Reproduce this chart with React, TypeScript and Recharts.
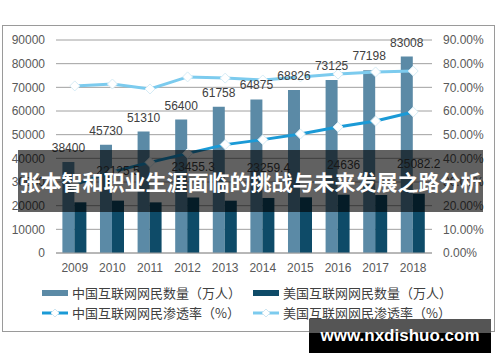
import React from "react";
import {
  ComposedChart,
  Bar,
  Line,
  XAxis,
  YAxis,
  CartesianGrid,
  LabelList,
} from "recharts";

// 年份 + 网民数量（万人）+ 渗透率（%）
const years = ["2009", "2010", "2011", "2012", "2013", "2014", "2015", "2016", "2017", "2018"];
const chinaUsers = [38400, 45730, 51310, 56400, 61758, 64875, 68826, 73125, 77198, 83008];
const usUsers = [21420, 22125.5, 21400, 23455.3, 22100, 23259.4, 23530, 24636, 24500, 25082.2];
const chinaRate = [28.9, 34.3, 38.3, 42.1, 45.8, 47.9, 50.3, 53.2, 55.8, 59.6];
const usRate = [70.6, 71.4, 69.3, 74.4, 73.9, 73.1, 74.4, 75.6, 76.5, 76.9];

const leftTicks = [0, 10000, 20000, 30000, 40000, 50000, 60000, 70000, 80000, 90000];
const rightTicks = [0, 10, 20, 30, 40, 50, 60, 70, 80, 90];

const title = "张本智和职业生涯面临的挑战与未来发展之路分析";
const watermark = "www.nxdishuo.com";

const data = years.map((year, i) => ({
  year,
  china: chinaUsers[i],
  us: usUsers[i],
  chinaRate: chinaRate[i],
  usRate: usRate[i],
}));

const C_BAR = "#5b8aa6";
const US_BAR = "#0e4b68";
const C_LINE = "#1b9ad6";
const US_LINE = "#7ccbee";

const numFont = "'Liberation Sans', Arial, sans-serif";
const cjkFont = "'Noto Sans CJK SC', sans-serif";

const diamond = (props: any) => {
  const { cx, cy, index } = props;
  if (cx == null || cy == null) return <g key={index} />;
  return (
    <polygon
      key={index}
      points={`${cx},${cy - 5} ${cx + 5},${cy} ${cx},${cy + 5} ${cx - 5},${cy}`}
      fill="#fff"
      stroke="#d6ecf6"
      strokeWidth={1}
    />
  );
};

// 美国的数据标签只有部分能看到
const usLabel = (props: any) => {
  const { x, y, width, value, index } = props;
  if (index % 2 === 0) return null;
  return (
    <text
      x={x + width / 2}
      y={y - 26}
      textAnchor="middle"
      fill="#404040"
      fontSize={12}
      fontFamily={numFont}
    >
      {value}
    </text>
  );
};

function LegendIcon({ type, color }: { type: "bar" | "line"; color: string }) {
  return (
    <svg width={28} height={10} style={{ display: "block" }}>
      {type === "bar" ? (
        <rect x={0} y={2} width={26} height={6} fill={color} />
      ) : (
        <g>
          <line x1={0} y1={5} x2={26} y2={5} stroke={color} strokeWidth={3} />
          <polygon points="13,1 17,5 13,9 9,5" fill="#fff" stroke="#cfe6f1" />
        </g>
      )}
    </svg>
  );
}

const legendItems = [
  { label: "中国互联网网民数量（万人）", type: "bar" as const, color: C_BAR, left: 42, top: 286 },
  { label: "美国互联网网民数量（万人）", type: "bar" as const, color: US_BAR, left: 253, top: 286 },
  { label: "中国互联网网民渗透率（%）", type: "line" as const, color: C_LINE, left: 42, top: 306 },
  { label: "美国互联网网民渗透率（%）", type: "line" as const, color: US_LINE, left: 253, top: 306 },
];

export default function App() {
  return (
    <div
      style={{
        position: "absolute",
        left: 0,
        top: 0,
        width: 500,
        height: 362,
        background: "#fff",
        overflow: "hidden",
      }}
    >
      {/* 图表外框 */}
      <div
        style={{
          position: "absolute",
          left: 2,
          top: 25,
          width: 493,
          height: 307,
          border: "1px solid #9a9a9a",
          boxSizing: "border-box",
        }}
      />
      <div style={{ position: "absolute", left: 0, top: 0 }}>
        <ComposedChart
          width={500}
          height={362}
          data={data}
          margin={{ top: 40, right: 8, left: 6, bottom: 79 }}
          barCategoryGap="17%"
          barGap={0}
        >
          <CartesianGrid vertical={false} stroke="#a0a0a0" yAxisId="left" />
          <XAxis
            dataKey="year"
            height={30}
            tickLine={false}
            axisLine={{ stroke: "#a0a0a0" }}
            tickSize={0}
            tickMargin={10}
            tick={{ fill: "#595959", fontSize: 12, fontFamily: numFont }}
          />
          <YAxis
            yAxisId="left"
            width={50}
            domain={[0, 90000]}
            ticks={leftTicks}
            interval={0}
            axisLine={false}
            tickLine={false}
            tickSize={0}
            tickMargin={11}
            tick={{ fill: "#595959", fontSize: 12, fontFamily: numFont }}
          />
          <YAxis
            yAxisId="right"
            orientation="right"
            width={60}
            domain={[0, 90]}
            ticks={rightTicks}
            interval={0}
            axisLine={false}
            tickLine={false}
            tickSize={0}
            tickMargin={11}
            tickFormatter={(v: number) => v.toFixed(2) + "%"}
            tick={{ fill: "#595959", fontSize: 12, fontFamily: numFont }}
          />
          <Bar yAxisId="left" dataKey="china" fill={C_BAR} isAnimationActive={false}>
            <LabelList
              dataKey="china"
              position="top"
              offset={10}
              fill="#404040"
              fontSize={12}
              fontFamily={numFont}
            />
          </Bar>
          <Bar yAxisId="left" dataKey="us" fill={US_BAR} isAnimationActive={false}>
            <LabelList dataKey="us" content={usLabel} />
          </Bar>
          <Line
            yAxisId="right"
            dataKey="chinaRate"
            stroke={C_LINE}
            strokeWidth={3}
            dot={diamond}
            isAnimationActive={false}
          />
          <Line
            yAxisId="right"
            dataKey="usRate"
            stroke={US_LINE}
            strokeWidth={3}
            dot={diamond}
            isAnimationActive={false}
          />
        </ComposedChart>
      </div>

      {/* 图例 */}
      {legendItems.map((it) => (
        <div
          key={it.label}
          style={{
            position: "absolute",
            left: it.left,
            top: it.top,
            display: "flex",
            alignItems: "center",
            gap: 2,
            fontFamily: cjkFont,
            fontSize: 13,
            color: "#404040",
            lineHeight: "14px",
            whiteSpace: "nowrap",
          }}
        >
          <LegendIcon type={it.type} color={it.color} />
          <span>{it.label}</span>
        </div>
      ))}

      {/* 标题遮罩条 */}
      <div
        style={{
          position: "absolute",
          left: 18,
          top: 150,
          width: 465,
          height: 62,
          background: "rgba(0,0,0,0.62)",
          color: "#fff",
          fontFamily: cjkFont,
          fontWeight: 700,
          fontSize: 21,
          lineHeight: "62px",
          textAlign: "center",
          whiteSpace: "nowrap",
        }}
      >
        {title}
      </div>

      {/* 水印 */}
      <div
        style={{
          position: "absolute",
          left: 309,
          top: 319,
          width: 182,
          height: 34,
          background: "linear-gradient(#555 0, #555 14px, #000 14px, #000 100%)",
          color: "#fff",
          fontFamily: numFont,
          fontWeight: 700,
          fontSize: 17,
          lineHeight: "34px",
          textAlign: "center",
        }}
      >
        {watermark}
      </div>
    </div>
  );
}
